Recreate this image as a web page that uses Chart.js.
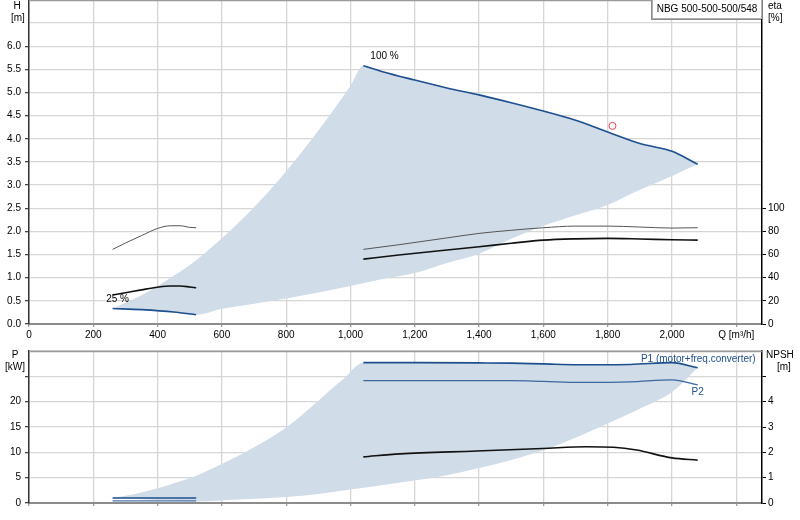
<!DOCTYPE html>
<html><head><meta charset="utf-8">
<script src="https://cdn.jsdelivr.net/npm/chart.js@4.4.1/dist/chart.umd.min.js"></script>
<style>
html,body{margin:0;padding:0;background:#fff;}
body{width:800px;height:520px;position:relative;overflow:hidden;font-family:"Liberation Sans",Arial,sans-serif;font-size:10px;color:#000;}
canvas{position:absolute;left:0;}
#c1{top:0}
#c2{top:340px}
.lbl{position:absolute;font-size:10px;line-height:12px;white-space:nowrap;}
#title{position:absolute;left:652px;top:0;width:110px;height:19px;border:1px solid #b0b0b0;border-top:none;box-shadow:-1px 1px 0 #8a8a8a;background:#fff;line-height:18px;text-align:center;box-sizing:border-box;font-size:10px;white-space:nowrap;}
</style></head>
<body>
<canvas id="c1" width="800" height="340"></canvas>
<canvas id="c2" width="800" height="180"></canvas>
<div id="title">NBG 500-500-500/548</div>
<div class="lbl" style="left:11px;top:0px;width:12px;text-align:center">H</div>
<div class="lbl" style="left:11px;top:12px">[m]</div>
<div class="lbl" style="left:768px;top:0px">eta</div>
<div class="lbl" style="left:768px;top:12px">[%]</div>
<div class="lbl" style="left:9px;top:349px;width:12px;text-align:center">P</div>
<div class="lbl" style="left:5px;top:361px">[kW]</div>
<div class="lbl" style="left:766px;top:349px">NPSH</div>
<div class="lbl" style="left:777px;top:361px">[m]</div>
<script>
// ---------- data: top chart (H / eta vs Q) ----------
const qMax = 2280;
const q100 = [1040,1100,1200,1300,1400,1500,1600,1700,1800,1900,2000,2080];
const h100 = [5.58,5.45,5.27,5.10,4.95,4.78,4.60,4.40,4.15,3.90,3.73,3.45];
const q25  = [260,350,450,520];
const h25  = [0.335,0.31,0.26,0.20];
const qShadeLeftH  = [260,350,400,450,520,600,700,800,900,1000,1040];
const hShadeLeft   = [0.335,0.62,0.82,1.04,1.38,1.85,2.52,3.30,4.18,5.15,5.58];
const qShadeRightH = [520,600,700,800,900,1000,1100,1200,1300,1400,1500,1600,1700,1800,1900,2000,2080];
const hShadeRight  = [0.20,0.33,0.44,0.55,0.68,0.82,0.97,1.10,1.32,1.52,1.84,2.12,2.35,2.57,2.90,3.20,3.45];
const qEtaL      = [260,300,350,400,440,470,500,520];
const etaPumpL   = [64.5,70,76.4,82.6,84.9,84.9,83.5,83.2];
const etaTotalL  = [25,27,29.5,31.8,32.8,32.8,32,31.3];
const qEtaR      = [1040,1150,1300,1400,1500,1600,1700,1800,1900,2000,2080];
const etaPumpR   = [64.5,68.5,74.4,78.3,81,83.2,84.6,84.6,83.8,82.9,83.2];
const etaTotalR  = [56.1,59.6,64,66.8,69.8,72.5,73.6,74,73.5,72.8,72.5];
const qDuty = [1815];
const hDuty = [4.28];
// ---------- data: bottom chart (P / NPSH vs Q) ----------
const qPR  = [1040,1200,1400,1500,1600,1714,1870,2000,2080];
const p1R  = [27.7,27.7,27.65,27.6,27.45,27.3,27.35,27.7,26.7];
const p2R  = [24.15,24.15,24.15,24.15,24.0,23.8,23.9,24.3,23.3];
const qPL  = [260,520];
const p1L  = [0.98,0.98];
const p2L  = [0.40,0.40];
const qNpsh = [1040,1154,1392,1597,1735,1818,1890,2000,2080];
const npsh  = [1.82,1.94,2.05,2.15,2.22,2.20,2.09,1.78,1.69];
const qShadeLeftP  = [260,330,400,460,520,600,700,800,900,980,1040];
const pShadeLeft   = [1.0,1.8,2.9,4.1,5.4,7.7,11.0,14.9,20.2,24.6,27.7];
const qShadeRightP = [260,400,520,650,800,900,1000,1150,1300,1400,1500,1600,1700,1800,1900,2000,2080];
const pShadeRight  = [1.0,0.6,0.3,0.7,1.2,1.8,2.65,4.0,5.5,6.9,8.5,10.4,12.9,15.7,18.6,21.9,26.7];

const pts = (xs, ys) => xs.map((x, i) => ({x: x, y: ys[i]}));

const FONT = '"Liberation Sans", Arial, sans-serif';
Chart.defaults.font.family = FONT;
Chart.defaults.font.size = 10;
Chart.defaults.color = '#000';

const SHADE = '#d0dce8';
const BLUE = '#1d4f8f';
const GRID = '#d6d6d6';

const line = (data, color, width, axis, extra) => Object.assign({
  data: data, borderColor: color, borderWidth: width, pointRadius: 0, pointHoverRadius: 0,
  showLine: true, fill: false, yAxisID: axis, tension: 0.3, cubicInterpolationMode: 'monotone'
}, extra || {});

const curveLabels = {
  id: 'curveLabels',
  afterDatasetsDraw(chart, args, opts) {
    const {ctx, scales} = chart;
    ctx.save();
    ctx.font = '10px ' + FONT;
    ctx.textBaseline = 'middle';
    (opts.items || []).forEach(it => {
      ctx.fillStyle = it.color;
      ctx.textAlign = it.align;
      ctx.fillText(it.text, scales.x.getPixelForValue(it.q) + it.dx, scales[it.axis].getPixelForValue(it.v) + it.dy);
    });
    ctx.restore();
  }
};
const topBorder = {
  id: 'topBorder',
  afterDraw(chart) {
    const {ctx, chartArea} = chart;
    ctx.save();
    ctx.strokeStyle = '#9a9a9a';
    ctx.lineWidth = 1.5;
    ctx.beginPath();
    ctx.moveTo(chartArea.left, chartArea.top + 0.5);
    ctx.lineTo(chartArea.right, chartArea.top + 0.5);
    ctx.stroke();
    ctx.restore();
  }
};

const noPad = s => { s.paddingTop = 0; s.paddingBottom = 0; s.paddingLeft = 0; s.paddingRight = 0; };

const xScale = (showLabels, h) => ({
  type: 'linear', min: 0, max: qMax,
  afterFit: s => { s.height = h; noPad(s); },
  grid: {color: GRID, lineWidth: 1.3, tickLength: 3, tickColor: '#9a9a9a'},
  border: {color: '#8c8c8c', width: 2},
  ticks: {
    stepSize: 200, includeBounds: false, autoSkip: false, maxRotation: 0, padding: 2,
    callback: v => {
      const r = Math.round(v);
      if (!showLabels) return '';
      if (r === 2200) return 'Q [m\u00b3/h]';
      if (r > 2200) return '';
      return r.toLocaleString('en-US');
    }
  }
});

const fillerOpts = {drawTime: 'beforeDatasetsDraw', propagate: false};

// ---------- top chart ----------
new Chart(document.getElementById('c1'), {
  type: 'scatter',
  data: {datasets: [
    line(pts(qShadeLeftH, hShadeLeft).concat(pts(q100.slice(1), h100.slice(1))), 'rgba(0,0,0,0)', 0, 'y', {fill: '+1', backgroundColor: SHADE, tension: 0}),
    line(pts(q25, h25).concat(pts(qShadeRightH.slice(1), hShadeRight.slice(1))), 'rgba(0,0,0,0)', 0, 'y', {tension: 0}),
    line(pts(q100, h100), BLUE, 1.6, 'y'),
    line(pts(q25, h25), BLUE, 1.6, 'y'),
    line(pts(qEtaL, etaPumpL), '#555', 1, 'eta'),
    line(pts(qEtaL, etaTotalL), '#111', 1.6, 'eta'),
    line(pts(qEtaR, etaPumpR), '#555', 1, 'eta'),
    line(pts(qEtaR, etaTotalR), '#111', 1.6, 'eta'),
    {data: pts(qDuty, hDuty), yAxisID: 'y', pointRadius: 3.5, pointHoverRadius: 3.5, pointStyle: 'circle', borderColor: '#ee4455', borderWidth: 1, backgroundColor: 'rgba(0,0,0,0)', showLine: false, clip: false}
  ]},
  options: {
    responsive: false, animation: false, devicePixelRatio: 1,
    layout: {padding: 0, autoPadding: false},
    plugins: {legend: {display: false}, tooltip: {enabled: false}, filler: fillerOpts,
      curveLabels: {items: [
        {text: '100 %', q: q100[0], v: h100[0], axis: 'y', dx: 7, dy: -9, align: 'left', color: '#000'},
        {text: '25 %', q: q25[0], v: h25[0], axis: 'y', dx: 5, dy: -9, align: 'center', color: '#000'}
      ]}},
    scales: {
      x: xScale(true, 16),
      y: {type: 'linear', position: 'left', min: 0, max: 7,
        afterFit: s => { s.width = 29; noPad(s); },
        grid: {color: GRID, lineWidth: 1.3, tickLength: 4, tickColor: c => c.tick && c.tick.value <= 6 ? '#444' : 'rgba(0,0,0,0)'},
        border: {color: '#333', width: 1.5},
        ticks: {stepSize: 0.5, padding: 4, callback: v => v <= 6 ? v.toFixed(1) : ''}},
      eta: {type: 'linear', position: 'right', min: 0, max: 280,
        afterFit: s => { s.width = 38; noPad(s); },
        grid: {drawOnChartArea: false, tickLength: 4, tickColor: c => c.tick && c.tick.value <= 100 ? '#000' : 'rgba(0,0,0,0)'},
        border: {color: '#000', width: 1.5},
        ticks: {stepSize: 20, padding: 2, callback: v => v <= 100 ? String(v) : ''}}
    }
  },
  plugins: [curveLabels, topBorder]
});

// ---------- bottom chart ----------
new Chart(document.getElementById('c2'), {
  type: 'scatter',
  data: {datasets: [
    line(pts(qShadeLeftP, pShadeLeft).concat(pts(qPR.slice(1), p1R.slice(1))), 'rgba(0,0,0,0)', 0, 'y', {fill: '+1', backgroundColor: SHADE, tension: 0}),
    line(pts(qShadeRightP, pShadeRight), 'rgba(0,0,0,0)', 0, 'y', {tension: 0}),
    line(pts(qPR, p1R), BLUE, 1.6, 'y', {tension: 0}),
    line(pts(qPR, p2R), '#3a67a0', 1.3, 'y', {tension: 0}),
    line(pts(qPL, p1L), BLUE, 1.6, 'y', {tension: 0}),
    line(pts(qPL, p2L), '#4a74aa', 1.3, 'y', {tension: 0}),
    line(pts(qNpsh, npsh), '#111', 1.6, 'npsh')
  ]},
  options: {
    responsive: false, animation: false, devicePixelRatio: 1,
    layout: {padding: {top: 11}, autoPadding: false},
    plugins: {legend: {display: false}, tooltip: {enabled: false}, filler: fillerOpts,
      curveLabels: {items: [
        {text: 'P1 (motor+freq.converter)', q: qPR[qPR.length - 1], v: p1R[p1R.length - 1], axis: 'y', dx: 58, dy: -8, align: 'right', color: BLUE},
        {text: 'P2', q: qPR[qPR.length - 1], v: p2R[p2R.length - 1], axis: 'y', dx: 0, dy: 7, align: 'center', color: BLUE}
      ]}},
    scales: {
      x: xScale(false, 17),
      y: {type: 'linear', position: 'left', min: 0, max: 30,
        afterFit: s => { s.width = 29; noPad(s); },
        grid: {color: GRID, lineWidth: 1.3, tickLength: 4, tickColor: c => c.tick && c.tick.value < 30 ? '#444' : 'rgba(0,0,0,0)'},
        border: {color: '#333', width: 1.5},
        ticks: {stepSize: 5, padding: 4, callback: v => v <= 20 ? String(v) : ''}},
      npsh: {type: 'linear', position: 'right', min: 0, max: 6,
        afterFit: s => { s.width = 38; noPad(s); },
        grid: {drawOnChartArea: false, tickLength: 4, tickColor: c => c.tick && c.tick.value < 6 ? '#000' : 'rgba(0,0,0,0)'},
        border: {color: '#000', width: 1.5},
        ticks: {stepSize: 1, padding: 2, callback: v => v <= 4 ? String(v) : ''}}
    }
  },
  plugins: [curveLabels, topBorder]
});
</script>
</body></html>
